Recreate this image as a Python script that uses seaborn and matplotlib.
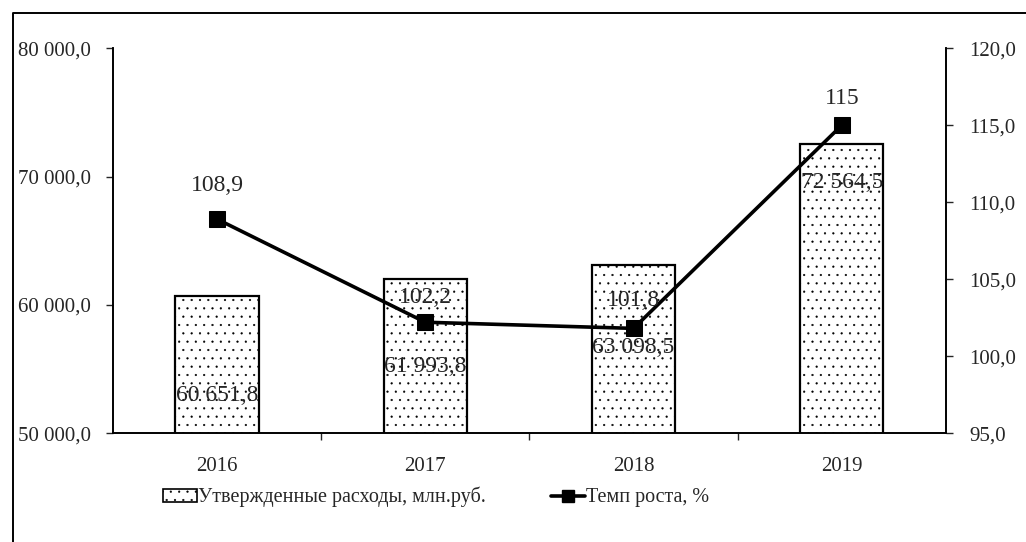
import matplotlib
matplotlib.use("Agg")
import matplotlib.pyplot as plt
import pandas as pd
import seaborn as sns
from matplotlib.lines import Line2D
from matplotlib.patches import Patch

# data
years = ["2016", "2017", "2018", "2019"]
expenses = [60651.8, 61993.8, 63098.5, 72564.5]      # утвержденные расходы, млн.руб.
growth = [108.9, 102.2, 101.8, 115.0]                # темп роста, %
growth_labels = ["108,9", "102,2", "101,8", "115"]
# where Excel left the bar value labels (data units of the left axis)
expense_label_y = [52900, 55150, 56650, 69500]


def ru_fmt(v):
    # 60651.8 -> "60 651,8"
    return f"{v:,.1f}".replace(",", " ").replace(".", ",")


sns.set_theme(style="white")
plt.rcParams["font.family"] = ["Liberation Serif", "DejaVu Serif"]
plt.rcParams["hatch.color"] = "0.72"
plt.rcParams["hatch.linewidth"] = 0.35

df = pd.DataFrame({"year": years, "expenses": expenses, "growth": growth,
                   "pos": range(len(years))})

fig = plt.figure(figsize=(10.26, 5.42), dpi=100)
ax = fig.add_axes([0.110, 0.201, 0.812, 0.710])

sns.barplot(data=df, x="year", y="expenses", color="white", width=0.4,
            edgecolor="black", linewidth=1.6, ax=ax)
for p in ax.patches:
    p.set_hatch("..")

ax.set_ylim(50000, 80000)
ax.set_yticks([50000, 60000, 70000, 80000])
ax.set_yticklabels([ru_fmt(v) for v in [50000, 60000, 70000, 80000]], fontsize=15)
ax.set_xlim(-0.5, 3.5)
ax.set_xlabel("")
ax.set_ylabel("")
ax.tick_params(axis="x", labelsize=15, length=0, pad=17)
ax.tick_params(axis="y", left=True, length=5, width=1, direction="out", pad=11)
# category boundary ticks on the x axis
ax.set_xticks([0.5, 1.5, 2.5], minor=True)
ax.tick_params(axis="x", which="minor", bottom=True, length=5, width=1, direction="out")

for i, v in enumerate(expenses):
    ax.text(i, expense_label_y[i], ru_fmt(v), ha="center", va="center", fontsize=17)

ax2 = ax.twinx()
sns.lineplot(data=df, x="pos", y="growth", color="black", linewidth=2.6,
             marker="s", markersize=11, markeredgecolor="black", ax=ax2)
ax2.set_ylim(95, 120)
ax2.set_yticks([95, 100, 105, 110, 115, 120])
ax2.set_yticklabels([f"{v:.1f}".replace(".", ",") for v in [95, 100, 105, 110, 115, 120]],
                    fontsize=15)
ax2.set_ylabel("")
ax2.set_xlabel("")
ax2.tick_params(axis="y", right=True, length=5, width=1, direction="out", pad=12)
label_lift = [24, 18, 20, 19]   # points above each marker
for i, v in enumerate(growth):
    ax2.annotate(growth_labels[i], (i, v), xytext=(0, label_lift[i]),
                 textcoords="offset points", ha="center", va="center", fontsize=17)

for a in (ax, ax2):
    a.spines["top"].set_visible(False)
    for s in ("left", "right", "bottom"):
        a.spines[s].set_color("black")
        a.spines[s].set_linewidth(1.2)

handles = [
    Patch(facecolor="white", edgecolor="black", hatch="..", linewidth=1.2,
          label="Утвержденные расходы, млн.руб."),
    Line2D([], [], color="black", linewidth=2.6, marker="s", markersize=9,
           label="Темп роста, %"),
]
fig.legend(handles=handles, loc="center", bbox_to_anchor=(0.425, 0.083), ncol=2,
           frameon=False, fontsize=14.5, handlelength=1.7, handleheight=0.6,
           handletextpad=0.05, columnspacing=3.2)

# outer chart frame: only the left and top edges show on the scan
fig.add_artist(Line2D([0.013, 0.013, 1.0], [0.0, 0.976, 0.976], transform=fig.transFigure,
                      color="black", linewidth=1.4))

fig.savefig("out.png", dpi=100)
